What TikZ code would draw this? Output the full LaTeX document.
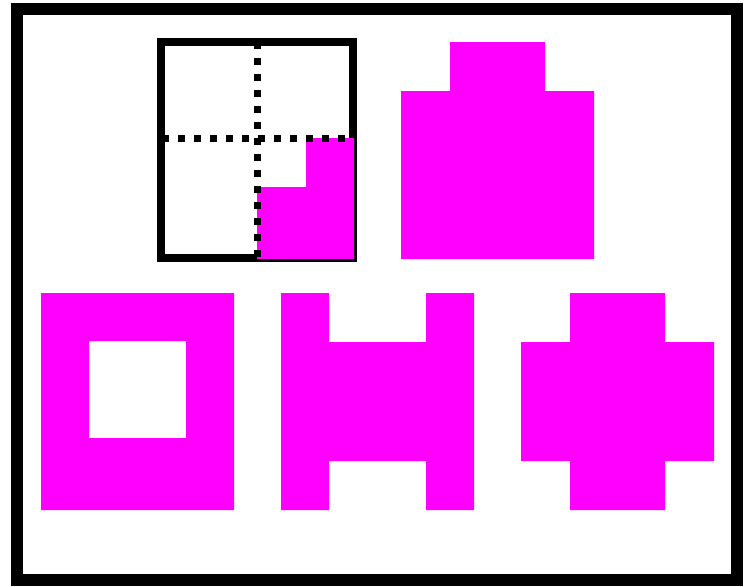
\documentclass[tikz,border=0pt]{standalone}
\begin{document}
\begin{tikzpicture}[x=0.75pt,y=-0.75pt,
  shapefill/.style={fill={rgb,255:red,255;green,0;blue,255}, draw=none},
  frameline/.style={draw=black, line width=9pt},
  boxline/.style={draw=black, line width=6pt},
  dotline/.style={draw=black, line width=5.25pt, dash pattern=on 5.25pt off 6.75pt}]
\useasboundingbox (0,0) rectangle (750,586);
\fill[white] (0,0) rectangle (750,586);
% outer frame
\draw[frameline] (17,9) rectangle (737,580);
% top-left box
\draw[boxline] (161,42) rectangle (353,258);
\fill[shapefill] (306,138) -- (354,138) -- (354,259) -- (257,259) -- (257,187) -- (306,187) -- cycle;
\draw[dotline] (257,42) -- (257,258);
\draw[dotline] (162,138) -- (353,138);
% top-right shape
\fill[shapefill] (450,42) -- (545,42) -- (545,91) -- (594,91) -- (594,259) -- (401,259) -- (401,91) -- (450,91) -- cycle;
% square ring
\fill[shapefill, even odd rule] (41,293) rectangle (234,510) (89,341) rectangle (186,438);
% H shape
\fill[shapefill] (281,293) -- (329,293) -- (329,342) -- (426,342) -- (426,293) -- (474,293) -- (474,510) -- (426,510) -- (426,461) -- (329,461) -- (329,510) -- (281,510) -- cycle;
% plus shape
\fill[shapefill] (570,293) -- (665,293) -- (665,342) -- (714,342) -- (714,461) -- (665,461) -- (665,510) -- (570,510) -- (570,461) -- (521,461) -- (521,342) -- (570,342) -- cycle;
\end{tikzpicture}
\end{document}
